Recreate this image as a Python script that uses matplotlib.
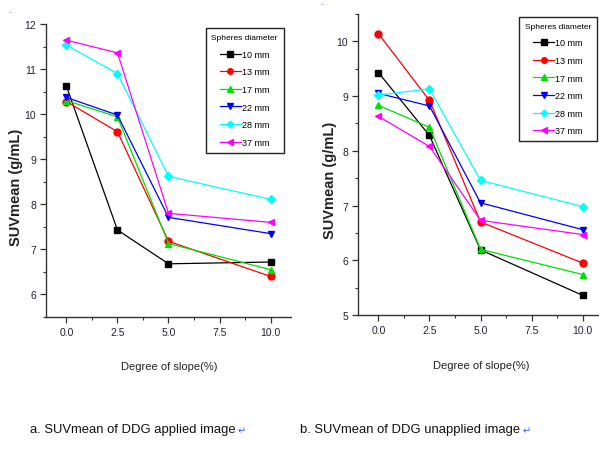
import numpy as np
import matplotlib.pyplot as plt
from matplotlib.ticker import MultipleLocator

# ---------- Data ----------
slope = [0.0, 2.5, 5.0, 10.0]
sizes = ['10 mm', '13 mm', '17 mm', '22 mm', '28 mm', '37 mm']

# a. DDG applied
applied = {
    '10 mm': [10.62, 7.43, 6.68, 6.72],
    '13 mm': [10.28, 9.61, 7.18, 6.40],
    '17 mm': [10.30, 9.94, 7.13, 6.55],
    '22 mm': [10.37, 9.98, 7.71, 7.35],
    '28 mm': [11.53, 10.90, 8.62, 8.11],
    '37 mm': [11.64, 11.36, 7.80, 7.60],
}

# b. DDG unapplied
unapplied = {
    '10 mm': [9.43, 8.28, 6.19, 5.36],
    '13 mm': [10.14, 8.92, 6.70, 5.95],
    '17 mm': [8.83, 8.43, 6.20, 5.74],
    '22 mm': [9.05, 8.82, 7.05, 6.56],
    '28 mm': [9.02, 9.13, 7.46, 6.98],
    '37 mm': [8.63, 8.08, 6.73, 6.47],
}

captions = ['a. SUVmean of DDG applied image',
            'b. SUVmean of DDG unapplied image']

colors = ['black', '#ff0000', '#00e000', '#0000ff', '#00ffff', '#ff00ff']
markers = ['s', 'o', '^', 'v', 'D', '<']

plt.rcParams['font.family'] = ['Liberation Sans', 'DejaVu Sans']

fig = plt.figure(figsize=(5.99, 4.52), dpi=100, facecolor='white')
ax1 = fig.add_axes([46/599, 1-318/452, 245/599, 293/452])
ax2 = fig.add_axes([358/599, 1-316/452, 245/599, 301/452])


def draw(ax, data, ylim, leg_anchor, ylab_xy):
    for name, c, m in zip(sizes, colors, markers):
        ms = 4.3 if m == 'D' else 5.0
        ax.plot(slope, data[name], color=c, marker=m, ms=ms, lw=0.9,
                label=name, markeredgecolor=c)
    ax.set_xlim(-1, 11)
    ax.set_ylim(*ylim)
    ax.spines['top'].set_visible(False)
    ax.spines['right'].set_visible(False)
    for s in ('left', 'bottom'):
        ax.spines[s].set_linewidth(1.0)
        ax.spines[s].set_color('#333333')
    ax.xaxis.set_major_locator(MultipleLocator(2.5))
    ax.xaxis.set_minor_locator(MultipleLocator(1.25))
    ax.yaxis.set_major_locator(MultipleLocator(1))
    ax.yaxis.set_minor_locator(MultipleLocator(0.5))
    ax.tick_params(which='major', length=4, width=0.9, labelsize=7.5,
                   colors='#333333', labelcolor='#222233', pad=3)
    ax.tick_params(which='minor', length=2.5, width=0.8, colors='#333333')
    ax.set_xticks([0, 2.5, 5, 7.5, 10])
    ax.set_xticklabels(['0.0', '2.5', '5.0', '7.5', '10.0'])
    ax.set_xlabel('Degree of slope(%)', fontsize=8, color='#222222')
    ax.xaxis.set_label_coords(0.505, -0.15)
    ax.set_ylabel('SUVmean (g/mL)', fontsize=10.5, fontweight='bold',
                  color='#222222')
    ax.yaxis.set_label_coords(*ylab_xy)
    leg = ax.legend(title='Spheres diameter', loc='upper right',
                    bbox_to_anchor=leg_anchor, fontsize=6.5, title_fontsize=6,
                    frameon=True, fancybox=False, edgecolor='#222222',
                    handlelength=2.3, handletextpad=0.1, labelspacing=0.95,
                    borderpad=0.65, borderaxespad=0.0, markerscale=0.8)
    leg.get_frame().set_linewidth(1.0)
    leg.get_frame().set_alpha(1)


draw(ax1, applied, (5.5, 12.0), (0.97, 0.985), (-0.094, 0.445))
draw(ax2, unapplied, (5.0, 10.5), (0.976, 0.99), (-0.086, 0.45))

# captions with the blue paragraph marks after them
for x, cap in zip([30/599, 300/599], captions):
    t = fig.text(x, 1-430/452, cap, fontsize=9.4, va='center', ha='left',
                 color='#111111')
    ax1.annotate('\u21b5', xy=(1, 0), xycoords=t, xytext=(1.5, 0),
                 textcoords='offset points', fontsize=7, color='#3060ff',
                 va='bottom', ha='left', family=['DejaVu Sans'],
                 annotation_clip=False)

# small blue anchor marks left over from the document
fig.text(10/599, 1-13/452, '-', fontsize=6, color='#6080ff',
         ha='center', va='center')
fig.text(322/599, 1-5/452, '-', fontsize=6, color='#6080ff',
         ha='center', va='center')

fig.savefig('out.png', dpi=100, facecolor='white')
